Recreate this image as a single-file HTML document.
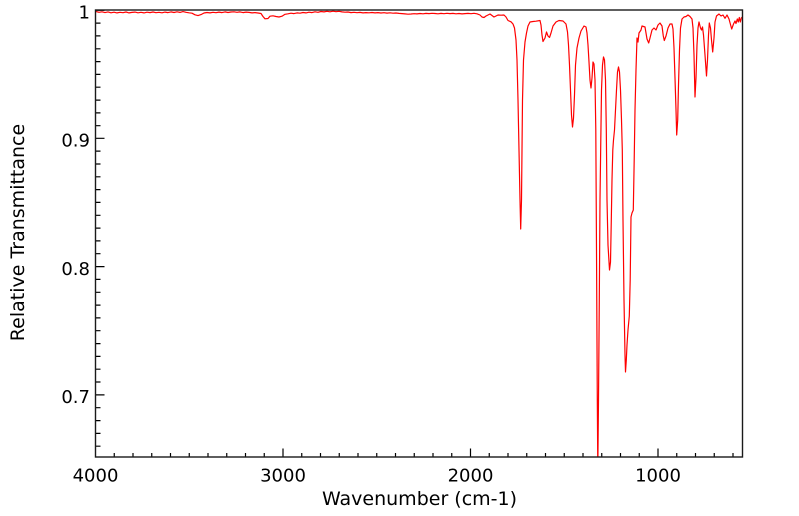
<!DOCTYPE html>
<html>
<head>
<meta charset="utf-8">
<style>
html,body{margin:0;padding:0;background:#fff;}
svg{display:block;}
text{font-family:"DejaVu Sans","Liberation Sans",sans-serif;fill:#000;}
</style>
</head>
<body>
<svg width="799" height="516" viewBox="0 0 799 516" xmlns="http://www.w3.org/2000/svg">
<defs>
<clipPath id="pc"><rect x="95.5" y="10" width="647" height="447"/></clipPath>
</defs>
<rect width="799" height="516" fill="#fff"/>

<!-- spectrum -->
<polyline clip-path="url(#pc)" fill="none" stroke="#ff0000" stroke-width="1.2" stroke-linejoin="round" points="
96,11.5 99,12.3 102,11.8 105,12.6 108,11.9 111,12.8 114,12.2 117,12.9 120,12.3 123,12.7 126,12.0 129,12.9 132,12.4 135,12.1 138,12.8 141,12.3 144,12.9 147,12.2 150,12.6 153,12.0 156,12.7 159,12.3 162,12.8 165,12.1 168,12.6 171,11.9 174,12.5 177,11.8 180,12.4 183,11.6 186,12.3 189,12.8 192,13.2 195,14.8 198,15.6 201,14.6 204,13.0 207,12.5 210,12.9 213,12.3 216,12.7 219,12.1 222,12.6 225,11.9 228,12.5 231,12.0 234,11.8 237,12.3 240,11.9 243,12.6 246,12.1 249,12.4 252,12.9 255,12.6 258,13.0 261,13.5 263,16.5 265,18.8 268,18.5 270,16.2 273,15.8 276,16.5 279,17.0 282,16.2 285,14.3 288,13.8 291,13.2 294,13.6 297,12.9 300,13.2 303,12.5 306,12.9 309,12.2 312,12.6 315,11.8 318,12.3 321,11.5 324,11.9 327,11.3 330,11.8 333,11.2 336,11.7 339,11.3 342,11.9 345,12.2 348,12.0 351,12.6 354,12.3 357,12.7 360,12.4 363,12.9 366,12.6 369,12.8 372,12.5 375,12.9 378,12.6 381,13.0 384,12.7 387,13.1 390,12.8 393,13.2 396,13.0 399,13.4 402,13.6 405,13.9 408,14.2 411,14.0 414,13.7 417,13.9 420,13.5 423,13.8 426,13.4 429,13.6 432,13.3 435,13.5 438,13.8 441,13.4 444,13.7 447,13.3 450,13.6 453,13.4 456,13.8 459,13.5 462,13.9 465,13.6 468,13.4 471,13.7 474,13.3 477,13.8 480,15.0 482,17.0 484,17.5 486,16.0 488,15.0 490,14.0 492,15.5 494,17.0 496,16.0 498,15.0 501,15.2 504,15.0 506,17.0 508,20.5 511,21.8 513,24 514.5,28 516,40 517,60 518,100 519,150 520,200 520.7,229
521.5,200 522,150 522.5,100 523.5,60 525,42 526.5,33 528,26 530,22 533,21.5 536,21.2 540,20.5 541,25 542,35 543,41.5 545,38 546.5,32 548,36 549.5,37.5 551,33 553,26 556,22 559,20.5 563,21 566,24 567.5,32 568.5,45 569.5,65 570.5,90 571.5,115 572.5,127 573.5,118 574.5,95 575.5,65 577,48 579,38 581,31 584,26 586,27 587,33 588,45 589,62 590,80 591,88 592,78 593,62 594,64 595,80 595.8,130 596.5,250 597.3,400 597.8,470 598.5,400 599.3,300 600,200 600.8,140 601.5,90 602.5,65 603.5,57 604.5,60 605.5,80 606.3,130 607,200 608,245 609.5,270 610.5,262 611.3,220 612,180 612.8,150 613.5,140 614.5,130 615.5,110 616.5,90 617.5,72 618.5,67 619.5,72 620.5,90 621.5,120 622.3,150 623,220 624,300 625,355 625.5,372 626.3,360 627,345 628,330 629.3,316 630.2,280 631,217 632,213 633.3,210 634.2,160 635,110 636,70 637,38
638,42 639,33 641,30 642,26 645,27 647,39 648.7,43 650,38 652,30 654,28 656,30 658,25 660,23 662,26 663.3,36 664.3,40.5 666,36 668,28 670,24 672,24 673,29 674,48 675,78 676,110 676.7,135 677.7,120 678.5,85 679.5,50 680.5,28 682,19 684,17 686,16.5 688,15 690,16.5 692,19 693,28 694,55 695,97 696,78 697,45 698,28 699,22 700.5,28 701.5,30 702.5,27 703.5,35 705,55 706.5,76 707.5,60 708.5,35 709.3,23 710.5,28 711.5,40 712.7,52 714,38 715,22 716.5,16 719,14 721,16 723,15 725,18.3 727,15 729,19 731.7,29 733.5,24 735,21 736,23.5 737.3,19 738.3,22 739.3,17.5 740.3,22 741.3,18 742.5,17"/>

<!-- ticks -->
<g stroke="#000" stroke-width="1.2" fill="none">
<!-- y major -->
<path d="M95.5,10.3h9 M95.5,138.3h9 M95.5,266.6h9 M95.5,394.9h9"/>
<!-- y minor -->
<path d="M95.5,23.1h5 M95.5,35.9h5 M95.5,48.8h5 M95.5,61.6h5 M95.5,74.4h5 M95.5,87.2h5 M95.5,100.1h5 M95.5,112.9h5 M95.5,125.7h5
M95.5,151.1h5 M95.5,164.0h5 M95.5,176.8h5 M95.5,189.6h5 M95.5,202.4h5 M95.5,215.3h5 M95.5,228.1h5 M95.5,240.9h5 M95.5,253.7h5
M95.5,279.4h5 M95.5,292.3h5 M95.5,305.1h5 M95.5,317.9h5 M95.5,330.7h5 M95.5,343.6h5 M95.5,356.4h5 M95.5,369.2h5 M95.5,382.0h5
M95.5,407.7h5 M95.5,420.6h5 M95.5,433.4h5 M95.5,446.2h5"/>
<!-- x major -->
<path d="M283,457v-8.5 M470.5,457v-8.5 M658,457v-8.5"/>
<!-- x minor -->
<path d="M114.25,457v-4 M133,457v-4 M151.75,457v-4 M170.5,457v-4 M189.25,457v-4 M208,457v-4 M226.75,457v-4 M245.5,457v-4 M264.25,457v-4
M301.75,457v-4 M320.5,457v-4 M339.25,457v-4 M358,457v-4 M376.75,457v-4 M395.5,457v-4 M414.25,457v-4 M433,457v-4 M451.75,457v-4
M489.25,457v-4 M508,457v-4 M526.75,457v-4 M545.5,457v-4 M564.25,457v-4 M583,457v-4 M601.75,457v-4 M620.5,457v-4 M639.25,457v-4
M676.75,457v-4 M695.5,457v-4 M714.25,457v-4 M733,457v-4"/>
</g>

<!-- frame -->
<rect x="95.5" y="10" width="647" height="447" fill="none" stroke="#1a1a1a" stroke-width="1.4"/>

<!-- y tick labels -->
<g font-size="18" text-anchor="end">
<text x="90" y="18.3">1</text>
<text x="90" y="146.6">0.9</text>
<text x="90" y="274.9">0.8</text>
<text x="90" y="403.2">0.7</text>
</g>
<!-- x tick labels -->
<g font-size="18" text-anchor="middle">
<text x="95.5" y="481.7">4000</text>
<text x="283" y="481.7">3000</text>
<text x="470.5" y="481.7">2000</text>
<text x="658" y="481.7">1000</text>
</g>

<!-- axis titles -->
<text x="419.5" y="505" font-size="19" text-anchor="middle">Wavenumber (cm-1)</text>
<text transform="translate(24,232.5) rotate(-90)" x="0" y="0" font-size="19" text-anchor="middle">Relative Transmittance</text>
</svg>
</body>
</html>
